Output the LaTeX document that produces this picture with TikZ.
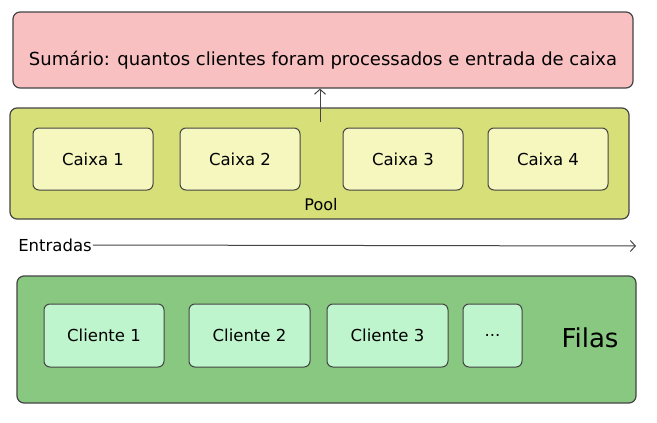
\documentclass[tikz,border=0pt]{standalone}
\usepackage{fontspec}
\setmainfont{DejaVu Sans}
\usetikzlibrary{arrows.meta}

\definecolor{sumariorosa}{RGB}{248,192,193}
\definecolor{poolverde}{RGB}{214,223,120}
\definecolor{caixaclaro}{RGB}{245,247,190}
\definecolor{filasverde}{RGB}{136,200,128}
\definecolor{clienteclaro}{RGB}{190,245,205}
\definecolor{borda}{RGB}{68,68,68}

\tikzset{
  grupo/.style={draw=borda, line width=1.2pt, rounded corners=7pt, inner sep=0pt},
  caixabox/.style={draw=borda, line width=1pt, rounded corners=6pt, fill=caixaclaro,
    minimum width=120pt, minimum height=62pt, inner sep=0pt, font=\fontsize{16.5}{18}\selectfont},
  clientebox/.style={caixabox, fill=clienteclaro, minimum height=63pt},
  seta/.style={-{Straight Barb[length=5pt, width=11pt]}, line width=1pt, draw=borda}
}

\begin{document}
\begin{tikzpicture}[x=1pt, y=-1pt]
    \useasboundingbox (0,0) rectangle (657,423);

    % sumario
    \node[grupo, fill=sumariorosa, minimum width=620pt, minimum height=76pt] (sumario) at (323,50) {};
    \node[font=\fontsize{18}{20}\selectfont] (sumtxt) at (323,60) {Sumário: quantos clientes foram processados e entrada de caixa};

    % pool
    \node[grupo, fill=poolverde, minimum width=619pt, minimum height=111pt] (pool) at (319.5,163.5) {};
    \node[caixabox] (c1) at (93,159) {Caixa 1};
    \node[caixabox] (c2) at (240,159) {Caixa 2};
    \node[caixabox] (c3) at (403,159) {Caixa 3};
    \node[caixabox] (c4) at (548,159) {Caixa 4};
    \node[font=\fontsize{16}{18}\selectfont] (pooltxt) at (321,205) {Pool};
    \coordinate (poolsaida) at (320,122);
    \draw[seta] (poolsaida) -- (poolsaida |- sumario.south);

    % entradas
    \node[font=\fontsize{16.5}{18}\selectfont, inner sep=1pt] (entradas) at (55,245) {Entradas};
    \coordinate (entfim) at (636,246);
    \draw[seta] (entradas.east) -- (entfim);

    % filas
    \node[grupo, fill=filasverde, minimum width=619pt, minimum height=127pt] (filas) at (326.5,339.5) {};
    \node[clientebox] (f1) at (104,335.5) {Cliente 1};
    \node[clientebox, minimum width=121pt] (f2) at (249.5,335.5) {Cliente 2};
    \node[clientebox, minimum width=121pt] (f3) at (387.5,335.5) {Cliente 3};
    \node[clientebox, minimum width=59pt] (f4) at (492.5,335.5) {...};
    \node[font=\fontsize{26}{28}\selectfont] (filastxt) at (590,338) {Filas};
\end{tikzpicture}
\end{document}
